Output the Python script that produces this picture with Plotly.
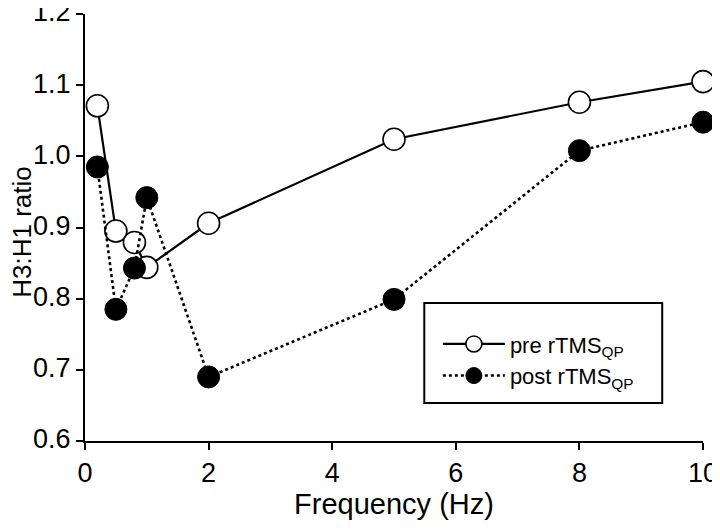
import plotly.graph_objects as go

freq = [0.2, 0.5, 0.8, 1, 2, 5, 8, 10]
pre_vals = [1.071, 0.895, 0.879, 0.844, 0.906, 1.024, 1.076, 1.105]
post_vals = [0.985, 0.785, 0.843, 0.942, 0.690, 0.799, 1.008, 1.048]
x_ticks = [0, 2, 4, 6, 8, 10]
y_ticks = [0.6, 0.7, 0.8, 0.9, 1.0, 1.1, 1.2]

FONT = "Liberation Sans, Arial, sans-serif"

fig = go.Figure()
fig.add_trace(go.Scatter(
    x=freq, y=pre_vals, mode="lines+markers", name="pre rTMS<sub>QP</sub>",
    line=dict(color="black", width=2.2),
    marker=dict(symbol="circle", size=22, color="white", line=dict(color="black", width=1.6)),
    cliponaxis=False,
))
fig.add_trace(go.Scatter(
    x=freq, y=post_vals, mode="lines+markers", name="post rTMS<sub>QP</sub>",
    line=dict(color="black", width=2.6, dash="dot"),
    marker=dict(symbol="circle", size=22, color="black", line=dict(color="black", width=1)),
    cliponaxis=False,
))

# page body has an 8px margin, so the figure is sized/offset to compensate
fig.update_layout(
    width=712, height=522,
    margin=dict(l=77, r=17, t=6, b=89),
    plot_bgcolor="white", paper_bgcolor="white",
    font=dict(family=FONT, size=24, color="black"),
    showlegend=True,
    legend=dict(
        x=0.571, y=0.276, xanchor="left", yanchor="top",
        bgcolor="rgba(0,0,0,0)", font=dict(size=22),
        tracegroupgap=2, itemwidth=62,
    ),
    shapes=[dict(type="rect", xref="paper", yref="paper",
                 x0=0.549, x1=0.934, y0=0.089, y1=0.323,
                 line=dict(color="black", width=2), fillcolor="rgba(0,0,0,0)")],
    annotations=[dict(text="H3:H1 ratio", xref="paper", yref="paper",
                      x=-0.101, y=0.489, xanchor="center", yanchor="middle",
                      textangle=-90, showarrow=False, font=dict(size=26))],
)
fig.update_xaxes(
    range=[0, 10], tickvals=x_ticks, ticktext=[str(v) for v in x_ticks],
    showline=True, linecolor="black", linewidth=2, ticks="outside", ticklen=7,
    tickwidth=2, tickcolor="black", showgrid=False, zeroline=False,
    automargin=False, ticklabeloverflow="allow",
    title=dict(text="Frequency (Hz)", font=dict(size=29), standoff=4),
    tickfont=dict(size=27),
)
fig.update_yaxes(
    range=[0.6, 1.2], tickvals=y_ticks, ticktext=[f"{v:.1f}" for v in y_ticks],
    showline=True, linecolor="black", linewidth=2, ticks="outside", ticklen=7,
    tickwidth=2, tickcolor="black", showgrid=False, zeroline=False,
    automargin=False, ticklabeloverflow="allow", ticklabelshift=-2,
    tickfont=dict(size=27),
)

fig.write_html("out.html")
